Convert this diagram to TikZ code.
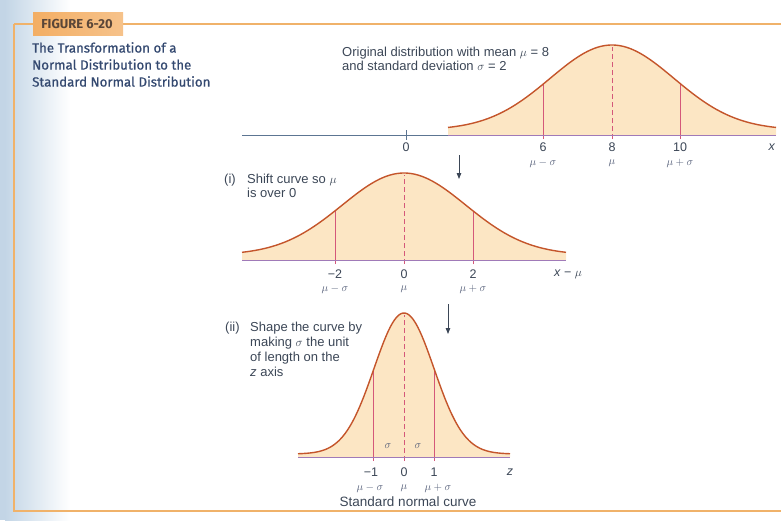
\documentclass[tikz,border=0pt]{standalone}
\usepackage{fontspec}
\setmainfont{Liberation Sans}
\newfontfamily\titlefont[FakeBold=0.7]{Fira Sans}
\newfontfamily\tagfont{Fira Sans}
\usetikzlibrary{arrows.meta}
\definecolor{framec}{HTML}{F0B26A}
\definecolor{tagc}{HTML}{F3AE64}
\definecolor{tagtext}{HTML}{5A4638}
\definecolor{titlec}{HTML}{344970}
\definecolor{textc}{HTML}{3B4656}
\definecolor{greekc}{HTML}{56607A}
\definecolor{curvec}{HTML}{C4552B}
\definecolor{fillc}{HTML}{FCE6C4}
\definecolor{basec}{HTML}{A07AB8}
\definecolor{axisc}{HTML}{5C7592}
\definecolor{sigc}{HTML}{D4587A}
\definecolor{bandc}{HTML}{B4CBE0}

% mu, marked sigma, shape width, height, base, half width, lift of the tails
\newcommand{\drawbell}[7]{%
  \fill[fillc] plot[domain={#1-#6}:{#1+#6}, samples=100]
    (\x, {#5-#7-(#4-#7)*exp(-0.5*((\x-#1)/#3)^2)})
    -- ({#1+#6}, #5) -- ({#1-#6}, #5) -- cycle;
  \foreach \sg in {-1,1}{
    \draw[sigline] ({#1+\sg*#2}, {#5+4}) -- ({#1+\sg*#2}, {#5-#7-(#4-#7)*exp(-0.5*(#2/#3)^2)});
  }
  \draw[muline] (#1, {#5+4}) -- (#1, {#5-#4+2});
  \draw[bellline] plot[domain={#1-#6}:{#1+#6}, samples=100]
    (\x, {#5-#7-(#4-#7)*exp(-0.5*((\x-#1)/#3)^2)});
  \draw[baseline] ({#1-#6}, #5) -- ({#1+#6}, #5);
}

\begin{document}
\begin{tikzpicture}[
    x=1pt, y=-1pt,
    every node/.style={inner sep=0pt, text=textc, font=\fontsize{12.5}{13.5}\selectfont},
    greek/.style={text=greekc, font=\fontsize{11}{12}\selectfont},
    note/.style={anchor=north west, align=left, font=\fontsize{13}{13.5}\selectfont},
    bellline/.style={curvec, line width=1.4pt},
    sigline/.style={sigc, line width=0.8pt},
    muline/.style={sigc, line width=0.8pt, dash pattern=on 5pt off 3pt},
    baseline/.style={basec, line width=1pt},
    axisline/.style={axisc, line width=1pt},
    arr/.style={-{Triangle[length=6pt, width=4.5pt]}, line width=0.8pt, color=textc},
]
\useasboundingbox (0,0) rectangle (781,520);

% page band and frame
\fill[bandc!80] (0,0) rectangle (5,520);
\shade[left color=bandc!80, right color=white] (5,0) rectangle (70,520);
\draw[framec, line width=1.8pt] (123,24) -- (781,24);
\draw[framec, line width=1.8pt] (14,24) -- (14,511) -- (781,511);
\draw[framec, line width=1.8pt] (14,24) -- (33,24);
\shade[left color=tagc, right color=tagc!75] (33,12) rectangle (123,35);
\node[text=tagtext, font=\tagfont\bfseries\fontsize{13}{14}\selectfont] (tag) at (77,24) {FIGURE 6-20};
\node[note, text=titlec, font=\titlefont\fontsize{13.3}{17}\selectfont] (title) at (32,42)
    {The Transformation of a\\Normal Distribution to the\\Standard Normal Distribution};

% original distribution
\draw[axisline] (242,135) -- (448,135);
\draw[axisline] (406,130) -- (406,140);
\drawbell{612}{68.5}{62}{90}{135}{164}{5}
\node[note] (orig) at (342,47)
    {Original distribution with mean $\mu$ = 8\\and standard deviation $\sigma$ = 2};
\foreach \p/\t [count=\i] in {406/0, 543/6, 612/8, 680/10, 772/\textit{x}}{
    \node (topn\i) at (\p,147) {\t};
}
\foreach \p/\t [count=\i] in {543/$\mu-\sigma$, 612/$\mu$, 680/$\mu+\sigma$}{
    \node[greek] (topg\i) at (\p,163) {\t};
}

\coordinate (arrAs) at (459,155);
\coordinate (arrAe) at (459,179);
\draw[arr] (arrAs) -- (arrAe);

% (i) shifted curve
\drawbell{404}{69}{62}{87}{260}{162}{5}
\node[anchor=west, font=\fontsize{13}{13.5}\selectfont] (stepA) at (224,180) {(i)};
\node[note] (shift) at (247,174) {Shift curve so $\mu$\\is over 0};
\foreach \p/\t [count=\i] in {335/−2, 404/0, 473/2, 568/\textit{x} − $\mu$}{
    \node (midn\i) at (\p,274) {\t};
}
\foreach \p/\t [count=\i] in {335/$\mu-\sigma$, 404/$\mu$, 473/$\mu+\sigma$}{
    \node[greek] (midg\i) at (\p,289) {\t};
}

\coordinate (arrBs) at (448,304);
\coordinate (arrBe) at (448,334);
\draw[arr] (arrBs) -- (arrBe);

% (ii) standard normal curve
\drawbell{404}{30.5}{30}{144}{457}{106}{3}
\node[anchor=west, font=\fontsize{13}{13.5}\selectfont] (stepB) at (225,328) {(ii)};
\node[note, font=\fontsize{13}{14.8}\selectfont] (shape) at (250,322)
    {Shape the curve by\\making $\sigma$ the unit\\of length on the\\\textit{z} axis};
\node[greek] (sgl) at (388,446) {$\sigma$};
\node[greek] (sgr) at (418,446) {$\sigma$};
\foreach \p/\t [count=\i] in {371/−1, 404/0, 434/1, 510/\textit{z}}{
    \node (botn\i) at (\p,472) {\t};
}
\foreach \p/\t [count=\i] in {370/$\mu-\sigma$, 404/$\mu$, 438/$\mu+\sigma$}{
    \node[greek] (botg\i) at (\p,488) {\t};
}
\node[font=\fontsize{13.5}{14}\selectfont] (std) at (408,502) {Standard normal curve};
\end{tikzpicture}
\end{document}
